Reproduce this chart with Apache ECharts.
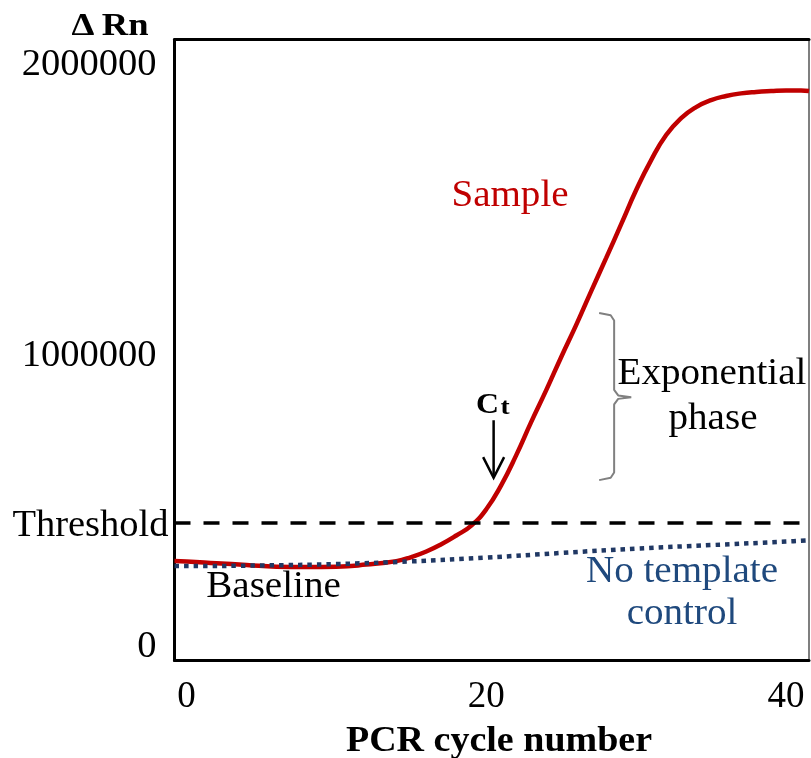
<!DOCTYPE html>
<html>
<head>
<meta charset="utf-8">
<script src="https://cdn.jsdelivr.net/npm/echarts@6/dist/echarts.min.js"></script>
<style>
  html, body { margin: 0; padding: 0; background: #fff; }
  #chart { width: 811px; height: 758px; }
</style>
</head>
<body>
<div id="chart"></div>
<script>
  // 数据
  var cycles = [-0.8, 0, 2, 4, 6, 8, 10, 12, 14, 15, 16, 17, 18, 19, 20, 21, 22, 23, 24, 25, 26, 27, 28, 29, 30, 31, 32, 33, 34, 35, 36, 37, 38, 39, 40, 41, 41.53];
  var sampleRn = [274000, 273000, 267000, 261000, 255000, 254000, 255000, 262000, 274000, 288000, 307000, 332000, 362000, 396000, 452000, 535000, 638000, 752000, 861000, 975000, 1085000, 1201000, 1315000, 1431000, 1548000, 1651000, 1737000, 1795000, 1833000, 1857000, 1871000, 1880000, 1885000, 1888000, 1890000, 1890000, 1888000];
  var ntcCycles = [-0.8, 0, 5, 10, 15, 20, 25, 30, 35, 40, 41.53];
  var ntcRn = [257000, 257000, 259000, 264000, 273000, 286000, 302000, 317000, 329000, 341000, 345000];
  var thresholdRn = 406000;
  var xTicks = [0, 20, 40];
  var yTicks = [0, 1000000, 2000000];

  // 注释: Ct 箭头 和 指数期括号
  var ctArrow = [[20.49, 758000], [20.49, 562000]];
  var ctHead = [[19.79, 631000], [20.49, 560000], [21.19, 631000]];
  var braceLine = [[27.53, 1126000], [28.3, 1118000], [28.53, 1100000], [28.53, 862000], [28.8, 843000], [29.67, 837000], [28.8, 831000], [28.53, 812000], [28.53, 578000], [28.3, 560000], [27.53, 552000]];

  var serif = '"Liberation Serif", "Times New Roman", serif';
  var xMin = -0.8, xMax = 41.53, yMin = -67300, yMax = 2065000;

  function zip(xs, ys) {
    return xs.map(function (x, i) { return [x, ys[i]]; });
  }
  // 图上文字 (原图略横向拉伸)
  function label(text, x, y, font, color) {
    return {
      type: 'text', x: x, y: y, scaleX: 1.056,
      style: { text: text, fill: color || '#000', font: font, align: 'center', verticalAlign: 'middle' }
    };
  }

  var myChart = echarts.init(document.getElementById('chart'));
  var option = {
    animation: false,
    grid: { left: 174.5, right: 2, top: 39.5, bottom: 97.5 },
    xAxis: [{
      type: 'value', min: xMin, max: xMax,
      axisLine: { show: true, onZero: false, lineStyle: { color: '#000', width: 3 } },
      axisTick: { show: false },
      splitLine: { show: false },
      axisLabel: {
        customValues: xTicks, margin: 18,
        color: '#000', fontFamily: serif, fontSize: 37
      }
    }, {
      type: 'value', min: xMin, max: xMax, position: 'top',
      axisLine: { show: true, onZero: false, lineStyle: { color: '#000', width: 3 } },
      axisTick: { show: false }, axisLabel: { show: false }, splitLine: { show: false }
    }],
    yAxis: [{
      type: 'value', min: yMin, max: yMax,
      axisLine: { show: true, onZero: false, lineStyle: { color: '#000', width: 3 } },
      axisTick: { show: false },
      splitLine: { show: false },
      axisLabel: {
        customValues: yTicks, margin: 18,
        formatter: function (v) { return '{a|' + v + '}'; },
        rich: {
          a: { padding: [12, 0, 0, 0], color: '#000', fontFamily: serif, fontSize: 38.5 }
        }
      }
    }, {
      type: 'value', min: yMin, max: yMax, position: 'right',
      axisLine: { show: true, onZero: false, lineStyle: { color: '#7f7f7f', width: 2 } },
      axisTick: { show: false }, axisLabel: { show: false }, splitLine: { show: false }
    }],
    series: [{
      name: 'Threshold',
      type: 'line',
      data: [],
      z: 1,
      markLine: {
        silent: true,
        symbol: 'none',
        lineStyle: { color: '#000', width: 3.5, type: [16, 13] },
        label: {
          show: true, position: 'start', distance: 6,
          formatter: '{a|Threshold}',
          rich: {
            a: { padding: [7, 0, 0, 0], color: '#000', fontFamily: serif, fontSize: 38.5 }
          }
        },
        data: [{ yAxis: thresholdRn }]
      }
    }, {
      name: 'Sample',
      type: 'line',
      data: zip(cycles, sampleRn),
      smooth: true,
      showSymbol: false,
      z: 2,
      lineStyle: { color: '#C00000', width: 4.5 }
    }, {
      name: 'No template control',
      type: 'line',
      data: zip(ntcCycles, ntcRn),
      smooth: 0.4,
      showSymbol: false,
      z: 3,
      lineStyle: { color: '#203864', width: 4.5, type: [4.5, 5], cap: 'butt' }
    }, {
      name: 'ct-arrow',
      type: 'line',
      data: ctArrow,
      showSymbol: false,
      silent: true,
      z: 4,
      lineStyle: { color: '#000', width: 2.5 }
    }, {
      name: 'ct-head',
      type: 'line',
      data: ctHead,
      showSymbol: false,
      silent: true,
      z: 4,
      lineStyle: { color: '#000', width: 2.5, join: 'miter' }
    }, {
      name: 'brace',
      type: 'line',
      data: braceLine,
      showSymbol: false,
      silent: true,
      z: 4,
      lineStyle: { color: '#808080', width: 2 }
    }],
    graphic: [
      { type: 'text', x: 110, y: 27, scaleX: 1.18, style: { text: 'Δ\u2009Rn', fill: '#000', font: 'bold 31px ' + serif, align: 'center', verticalAlign: 'middle' } },
      label('Sample', 510, 196, '37px ' + serif, '#C00000'),
      label('Exponential', 712, 374, '37px ' + serif),
      label('phase', 713, 419, '37px ' + serif),
      { type: 'text', x: 487.5, y: 406, scaleX: 1.1, style: { text: 'C', fill: '#000', font: 'bold 29px ' + serif, align: 'center', verticalAlign: 'middle' } },
      { type: 'text', x: 505, y: 408.5, scaleX: 1.2, style: { text: 't', fill: '#000', font: 'bold 23px ' + serif, align: 'center', verticalAlign: 'middle' } },
      label('Baseline', 273.5, 587, '37px ' + serif),
      label('No template', 682, 572, '37px ' + serif, '#1F497D'),
      label('control', 682, 614, '37px ' + serif, '#1F497D'),
      label('PCR cycle number', 499, 742, 'bold 36px ' + serif)
    ]
  };
  myChart.setOption(option);
</script>
</body>
</html>
